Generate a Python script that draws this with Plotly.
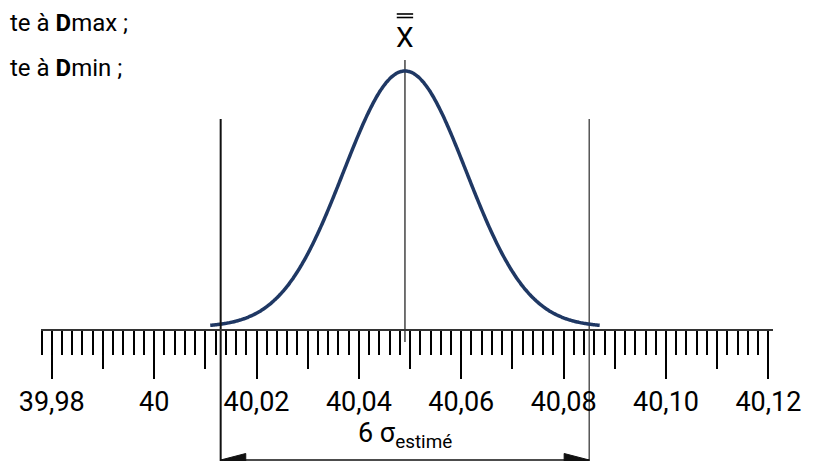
import numpy as np
import plotly.graph_objects as go

# process data (mm)
mean = 40.049
sigma = 0.012
tick_vals = [39.98, 40.00, 40.02, 40.04, 40.06, 40.08, 40.10, 40.12]
tick_text = ["39,98", "40", "40,02", "40,04", "40,06", "40,08", "40,10", "40,12"]
spread_label = "6 σ<sub>estimé</sub>"
mean_label = "X"
notes = ["te à <b>D</b>max ;", "te à <b>D</b>min ;"]

FONT = "Roboto"
# page body has an 8px margin, so the figure is 8px smaller than the window
W, H = 812, 453
XRANGE = [39.9779, 40.1209]
XDOMAIN = [0.04064, 0.94212]
YRANGE = [-0.5234, 1.2461]
AXIS_POS = 0.2892

t = np.linspace(-3.17, 3.17, 301)
curve_x = mean + sigma * t
curve_y = np.exp(-t ** 2 / 2)

lo, hi = mean - 3 * sigma, mean + 3 * sigma
dim_y = -0.5195
head_len = 0.0049
head_h = 0.0254
bar_half = 0.0016

fig = go.Figure()

# limit lines and mean line
fig.add_trace(go.Scatter(x=[lo, lo], y=[0.8125, YRANGE[0]], mode="lines",
                         line=dict(color="#111111", width=2), xaxis="x2"))
fig.add_trace(go.Scatter(x=[hi, hi], y=[0.8125, YRANGE[0]], mode="lines",
                         line=dict(color="#555555", width=1.5)))
fig.add_trace(go.Scatter(x=[mean, mean], y=[1.043, -0.0586], mode="lines",
                         line=dict(color="#444444", width=1.5)))

# normal curve
fig.add_trace(go.Scatter(x=curve_x, y=curve_y, mode="lines",
                         line=dict(color="#1F3864", width=3.5, shape="spline")))

# dimension line with arrow heads
fig.add_trace(go.Scatter(x=[lo, hi], y=[dim_y, dim_y], mode="lines",
                         line=dict(color="#111111", width=1.5)))
for tip, sgn in [(lo, 1), (hi, -1)]:
    fig.add_trace(go.Scatter(
        x=[tip, tip + sgn * head_len, tip + sgn * head_len, tip],
        y=[dim_y, dim_y + head_h, dim_y - head_h, dim_y],
        mode="lines", fill="toself", fillcolor="#111111",
        line=dict(color="#111111", width=1)))

# double bar over the X
for by in (1.2227, 1.2090):
    fig.add_shape(type="line", x0=mean - bar_half, x1=mean + bar_half, y0=by, y1=by,
                  line=dict(color="black", width=1.6))

fig.add_annotation(x=mean, y=1.057, text=mean_label, showarrow=False,
                   yanchor="bottom", font=dict(family=FONT, size=28, color="black"))
fig.add_annotation(x=mean, y=-0.42, text=spread_label, showarrow=False,
                   font=dict(family=FONT, size=27, color="black"))
for i, txt in enumerate(notes):
    fig.add_annotation(xref="paper", yref="paper", x=0, y=0.967 - i * 0.1,
                       xanchor="left", yanchor="middle", text=txt, showarrow=False,
                       font=dict(family=FONT, size=24, color="black"))

fig.update_layout(
    width=W, height=H,
    margin=dict(l=0, r=0, t=0, b=0, pad=0, autoexpand=False),
    paper_bgcolor="white", plot_bgcolor="white",
    showlegend=False,
    xaxis=dict(range=XRANGE, domain=XDOMAIN, anchor="free", position=AXIS_POS,
               automargin=False, showgrid=False, zeroline=False,
               showline=True, linecolor="#333333", linewidth=1.5,
               tickmode="array", tickvals=tick_vals, ticktext=tick_text,
               ticks="outside", ticklen=48, tickwidth=2, tickcolor="black",
               tickfont=dict(family=FONT, size=27, color="black"),
               minor=dict(tickmode="linear", tick0=39.98, dtick=0.002,
                          ticks="outside", ticklen=24, tickwidth=2, tickcolor="black")),
    xaxis2=dict(range=XRANGE, domain=XDOMAIN, overlaying="x", anchor="free",
                position=AXIS_POS, side="bottom", automargin=False,
                showgrid=False, zeroline=False, showline=False, showticklabels=False,
                tickmode="linear", tick0=39.98, dtick=0.01,
                ticks="outside", ticklen=38, tickwidth=2, tickcolor="black"),
    yaxis=dict(range=YRANGE, visible=False, automargin=False),
)

fig.write_html("out.html")
